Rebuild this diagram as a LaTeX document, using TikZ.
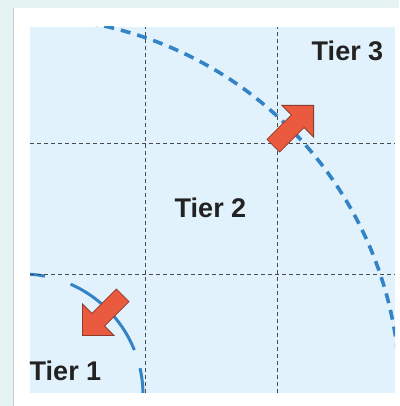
\documentclass[tikz,border=0pt]{standalone}
\usepackage{fontspec}
\setmainfont{Liberation Sans}
\usetikzlibrary{shapes.arrows}
\definecolor{mintbg}{HTML}{E5F4F1}
\definecolor{tierblue}{HTML}{E1F2FC}
\definecolor{ringblue}{HTML}{3384C6}
\definecolor{arrowred}{HTML}{EA5A3F}
\definecolor{arrowborder}{HTML}{8C3B2C}
\definecolor{gridgrey}{HTML}{4A4A4A}
\definecolor{labelink}{HTML}{222222}

\begin{document}
\begin{tikzpicture}[x=1pt, y=1pt, font=\fontsize{27}{27}\selectfont\bfseries,
  tierarrow/.style={single arrow, fill=arrowred, draw=arrowborder, line width=0.8pt,
    inner xsep=0pt, inner ysep=8.5pt, minimum height=57pt,
    single arrow head extend=13.5pt, single arrow tip angle=90}]
  \useasboundingbox (0,0) rectangle (399,406);
  \fill[mintbg] (0,0) rectangle (399,406);
  \fill[white] (13,0) rectangle (399,398);
  \draw[black!20, line width=0.8pt] (13,0) -- (13,398);
  \fill[tierblue] (30,13) rectangle (395,379);
  % the two rings
  \begin{scope}
    \clip (30,13) rectangle (395,379);
    \draw[ringblue, line width=3.6pt, dash pattern=on 10pt off 7pt] (22,11) ++(80:378) arc (80:0:378);
    \draw[ringblue, line width=3pt, dash pattern=on 23pt off 27pt on 94pt off 19pt on 40pt] (22,11) ++(90:121) arc (90:0:121);
  \end{scope}
  % grid
  \draw[gridgrey, line width=1pt, dash pattern=on 4pt off 3pt]
    (145,13) -- (145,379) (277,13) -- (277,379) (30,131) -- (395,131) (30,262) -- (395,262);
  \node[tierarrow, rotate=45, anchor=tip] (outarrow) at (314,301) {};
  \node[tierarrow, rotate=225, anchor=tip] (inarrow) at (82,70) {};
  \node[text=labelink, inner sep=0pt] (tierthree) at (347.5,355) {Tier 3};
  \node[text=labelink, inner sep=0pt] (tiertwo) at (210.5,198) {Tier 2};
  \node[text=labelink, inner sep=0pt] (tierone) at (65.5,35) {Tier 1};
\end{tikzpicture}
\end{document}
